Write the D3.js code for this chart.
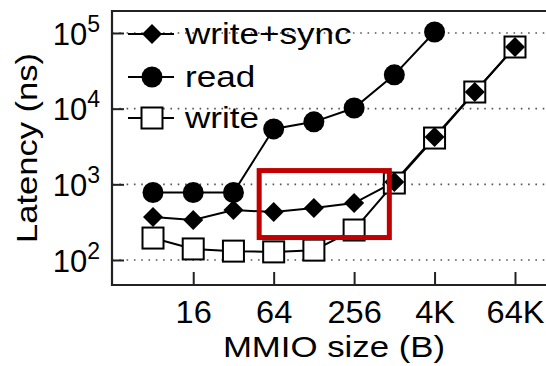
<!DOCTYPE html>
<html>
<head>
<meta charset="utf-8">
<script src="https://cdn.jsdelivr.net/npm/d3@7"></script>
<style>
  body { margin: 0; background: #fff; }
  svg { display: block; font-family: "Liberation Sans", Arial, sans-serif; }
</style>
</head>
<body>
<div class="chart"></div>
<script>
// data
var sizes = ["8", "16", "32", "64", "128", "256", "1K", "4K", "16K", "64K"];
var tickLabels = ["16", "64", "256", "4K", "64K"];
var yTicks = [1e2, 1e3, 1e4, 1e5];

var writeSync = [370, 338, 458, 430, 486, 566, 1075, 4220, 16600, 65300];
var readLat = [780, 780, 780, 5400, 6700, 10200, 28000, 103000];
var writeLat = [195, 140, 131, 128, 135, 249, 1040, 4090, 16600, 65300];

// highlighted region (red box)
var boxFrom = "64", boxTo = "1K", boxHi = 1520, boxLo = 198;

var svgWidth = 546;
var svgHeight = 366;

var frame = { left: 112, top: 11, bottom: 285, right: 560 };

var svg = d3.select(".chart")
  .append("svg")
  .attr("width", svgWidth)
  .attr("height", svgHeight);

var xScale = d3.scalePoint()
  .domain(sizes)
  .range([153, 515]);

var yScale = d3.scaleLog()
  .domain([1e2, 1e5])
  .range([260, 33]);

// dotted gridlines
svg.append("g")
  .selectAll("line")
  .data(yTicks)
  .enter()
  .append("line")
  .attr("x1", frame.left)
  .attr("x2", frame.right)
  .attr("y1", d => yScale(d))
  .attr("y2", d => yScale(d))
  .attr("stroke", "#555")
  .attr("stroke-width", 1.6)
  .attr("stroke-dasharray", "1.6,5.7");

// left axis with inward ticks
var leftAxis = d3.axisLeft(yScale)
  .tickValues(yTicks)
  .tickSizeInner(-12)
  .tickSizeOuter(0)
  .tickFormat("");

var gy = svg.append("g")
  .attr("transform", `translate(${frame.left}, 0)`)
  .call(leftAxis);
gy.select(".domain").remove();
gy.selectAll(".tick line").attr("stroke", "#222").attr("stroke-width", 2);
gy.selectAll(".tick text").remove();

// exponent labels
gy.selectAll(".tick").each(function(d) {
  var t = d3.select(this).append("text")
    .attr("x", -12)
    .attr("y", 11)
    .attr("text-anchor", "end")
    .attr("fill", "#000")
    .style("font-size", "31px");
  t.append("tspan").text("10");
  t.append("tspan")
    .attr("dy", -13)
    .style("font-size", "23px")
    .text(Math.round(Math.log10(d)));
});

// bottom axis, labelled only on every other size
var bottomAxis = d3.axisBottom(xScale)
  .tickValues(tickLabels)
  .tickSizeInner(-13)
  .tickSizeOuter(0)
  .tickFormat("");

var gx = svg.append("g")
  .attr("transform", `translate(0, ${frame.bottom})`)
  .call(bottomAxis);
gx.select(".domain").remove();
gx.selectAll(".tick line").attr("stroke", "#222").attr("stroke-width", 2);
gx.selectAll(".tick text").remove();
gx.selectAll(".tick").append("text")
  .attr("transform", "translate(0, 38) scale(1.05, 1)")
  .attr("text-anchor", "middle")
  .attr("fill", "#000")
  .style("font-size", "31px")
  .text(d => d);

// frame
svg.append("path")
  .attr("d", `M${frame.right},${frame.top}H${frame.left}V${frame.bottom}H${frame.right}`)
  .attr("fill", "none")
  .attr("stroke", "#222")
  .attr("stroke-width", 2.2);

// series
var diamond = d3.symbol().type(d3.symbolSquare).size(200);

function drawLine(values) {
  var line = d3.line()
    .x((d, i) => xScale(sizes[i]))
    .y(d => yScale(d));
  svg.append("path")
    .datum(values)
    .attr("d", line)
    .attr("fill", "none")
    .attr("stroke", "#000")
    .attr("stroke-width", 2);
}

drawLine(writeLat);
drawLine(writeSync);
drawLine(readLat);

svg.append("g")
  .selectAll("rect")
  .data(writeLat)
  .enter()
  .append("rect")
  .attr("x", (d, i) => xScale(sizes[i]) - 10.5)
  .attr("y", d => yScale(d) - 10.5)
  .attr("width", 21)
  .attr("height", 21)
  .attr("fill", "#fff")
  .attr("stroke", "#000")
  .attr("stroke-width", 2);

svg.append("g")
  .selectAll("circle")
  .data(readLat)
  .enter()
  .append("circle")
  .attr("cx", (d, i) => xScale(sizes[i]))
  .attr("cy", d => yScale(d))
  .attr("r", 10.5)
  .attr("fill", "#000");

svg.append("g")
  .selectAll("path")
  .data(writeSync)
  .enter()
  .append("path")
  .attr("d", diamond)
  .attr("transform", (d, i) => `translate(${xScale(sizes[i])}, ${yScale(d)}) rotate(45)`)
  .attr("fill", "#000");

// legend
var legendRows = [
  { name: "write+sync", y: 34, mark: "diamond" },
  { name: "read", y: 77, mark: "circle" },
  { name: "write", y: 118, mark: "square" }
];

var legend = svg.append("g");
legendRows.forEach(function(r) {
  legend.append("line")
    .attr("x1", 128).attr("x2", 174)
    .attr("y1", r.y).attr("y2", r.y)
    .attr("stroke", "#000")
    .attr("stroke-width", 2);
  if (r.mark === "diamond") {
    legend.append("path")
      .attr("d", diamond)
      .attr("transform", `translate(152, ${r.y}) rotate(45)`)
      .attr("fill", "#000");
  } else if (r.mark === "circle") {
    legend.append("circle")
      .attr("cx", 152).attr("cy", r.y).attr("r", 10.5)
      .attr("fill", "#000");
  } else {
    legend.append("rect")
      .attr("x", 141.5).attr("y", r.y - 10.5)
      .attr("width", 21).attr("height", 21)
      .attr("fill", "#fff")
      .attr("stroke", "#000")
      .attr("stroke-width", 2);
  }
  legend.append("text")
    .attr("transform", `translate(185, ${r.y + 9.5}) scale(1.17, 1)`)
    .attr("fill", "#000")
    .style("font-size", "30px")
    .text(r.name);
});

// highlight box
var bx0 = xScale(boxFrom) - 14.5;
var bx1 = xScale(boxTo) - 5;
svg.append("rect")
  .attr("x", bx0)
  .attr("y", yScale(boxHi))
  .attr("width", bx1 - bx0)
  .attr("height", yScale(boxLo) - yScale(boxHi))
  .attr("fill", "none")
  .attr("stroke", "#c00000")
  .attr("stroke-width", 5);

// axis labels
svg.append("text")
  .attr("transform", "translate(37, 148) rotate(-90) scale(1.15, 1)")
  .attr("text-anchor", "middle")
  .attr("fill", "#000")
  .style("font-size", "30px")
  .text("Latency (ns)");

svg.append("text")
  .attr("transform", "translate(334, 357) scale(1.16, 1)")
  .attr("text-anchor", "middle")
  .attr("fill", "#000")
  .style("font-size", "30px")
  .text("MMIO size (B)");
</script>
</body>
</html>
